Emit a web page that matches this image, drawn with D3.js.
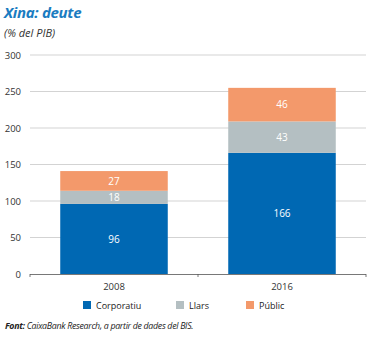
<!DOCTYPE html>
<html><head><meta charset="utf-8">
<script src="https://cdn.jsdelivr.net/npm/d3@7"></script>
<style>body{margin:0;background:#fff}svg{display:block}text{font-family:"Open Sans","Noto Sans",sans-serif}</style>
</head><body><svg id="c" width="380" height="338"></svg>
<script>
const categories = ["2008", "2016"];
const seriesNames = ["Corporatiu", "Llars", "Públic"];
const corporatiu = [96, 166];
const llars = [18, 43];
const public_ = [27, 46];
const yTicks = [0, 50, 100, 150, 200, 250, 300];
const colors = ["#0068b3", "#b4bfc2", "#f3996b"];

const svg = d3.select("#c");
const data = categories.map((c, i) => ({cat: c, Corporatiu: corporatiu[i], Llars: llars[i], "Públic": public_[i]}));
const stack = d3.stack().keys(seriesNames)(data);

const x = d3.scaleBand().domain(categories).range([30, 366]).paddingInner(0.36).paddingOuter(0.18);
const y = d3.scaleLinear().domain([0, 300]).range([274, 55]);

// gridlines
svg.append("g").selectAll("line").data(yTicks.filter(d => d > 0)).join("line")
  .attr("x1", 30).attr("x2", 366).attr("y1", d => y(d)).attr("y2", d => y(d))
  .attr("stroke", "#c8c8c8").attr("stroke-width", 0.8);

// y labels
svg.append("g").selectAll("text").data(yTicks).join("text")
  .attr("x", 21).attr("y", d => y(d) + 3.5).attr("text-anchor", "end")
  .attr("font-size", 9.5).attr("fill", "#333").text(d => d);

// bars
const g = svg.append("g");
stack.forEach((s, si) => {
  g.append("g").selectAll("rect").data(s).join("rect")
    .attr("x", d => x(d.data.cat)).attr("width", x.bandwidth())
    .attr("y", d => y(d[1])).attr("height", d => y(d[0]) - y(d[1]))
    .attr("fill", colors[si]);
  g.append("g").selectAll("text").data(s).join("text")
    .attr("x", d => x(d.data.cat) + x.bandwidth() / 2)
    .attr("y", d => (y(d[0]) + y(d[1])) / 2 + 3.7)
    .attr("text-anchor", "middle").attr("font-size", 10).attr("fill", "#fff")
    .text(d => d[1] - d[0]);
});

// x axis
const xa = svg.append("g");
xa.append("line").attr("x1", 30).attr("x2", 366).attr("y1", 274.5).attr("y2", 274.5).attr("stroke", "#555").attr("stroke-width", 0.8);
const tickXs = [30, (x("2008") + x.bandwidth() + x("2016")) / 2, 366];
xa.selectAll("line.t").data(tickXs).join("line").attr("class", "t")
  .attr("x1", d => d).attr("x2", d => d).attr("y1", 274).attr("y2", 277).attr("stroke", "#555").attr("stroke-width", 0.8);
xa.selectAll("text").data(categories).join("text")
  .attr("x", d => x(d) + x.bandwidth() / 2).attr("y", 290).attr("text-anchor", "middle")
  .attr("font-size", 9.5).attr("fill", "#333").text(d => d);

// legend
const legX = [83, 176, 246];
const lg = svg.append("g");
seriesNames.forEach((n, i) => {
  lg.append("rect").attr("x", legX[i]).attr("y", 301).attr("width", 8).attr("height", 8).attr("fill", colors[i]);
  lg.append("text").attr("x", legX[i] + 13).attr("y", 308.5).attr("font-size", 9).attr("fill", "#222").text(n);
});

// titles
svg.append("text").attr("x", 4).attr("y", 18).attr("font-size", 15).attr("font-weight", "bold")
  .attr("font-style", "italic").attr("fill", "#1a7cc1").attr("letter-spacing", -0.3).text("Xina: deute");
svg.append("text").attr("x", 4).attr("y", 37).attr("font-size", 11).attr("font-style", "italic")
  .attr("fill", "#333").text("(% del PIB)");

const src = svg.append("text").attr("x", 5).attr("y", 329).attr("font-size", 8.8).attr("font-style", "italic").attr("fill", "#222").attr("letter-spacing", -0.3);
src.append("tspan").attr("font-weight", "bold").text("Font:");
src.append("tspan").text(" CaixaBank Research, a partir de dades del BIS.");
</script></body></html>
